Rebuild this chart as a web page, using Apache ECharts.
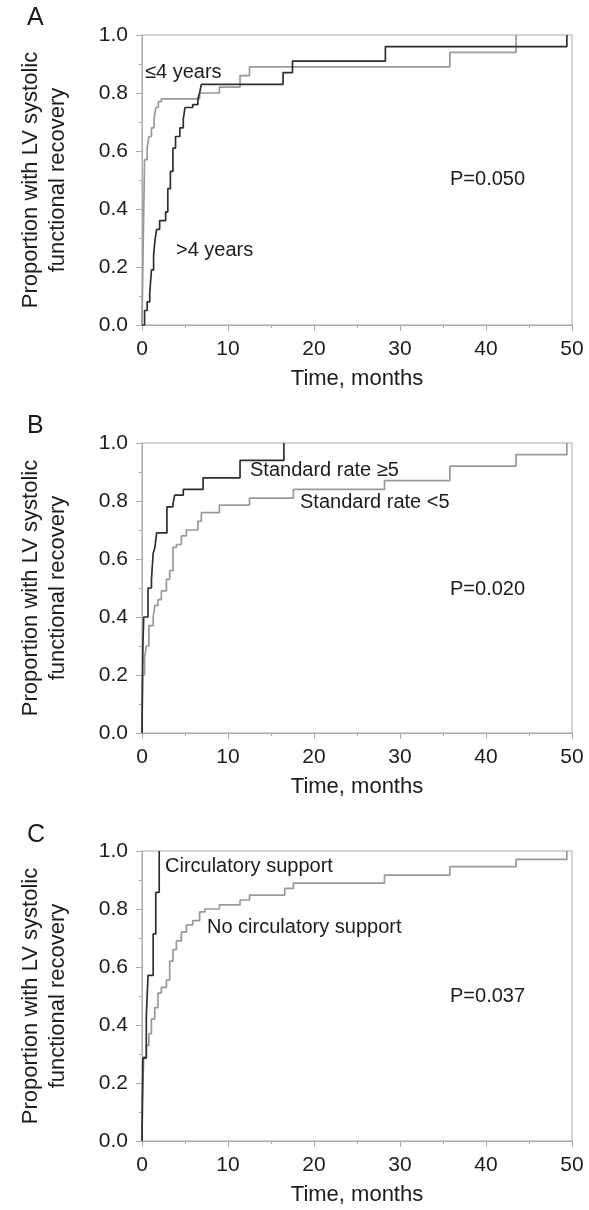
<!DOCTYPE html>
<html>
<head>
<meta charset="utf-8">
<script src="https://cdn.jsdelivr.net/npm/echarts@6/dist/echarts.min.js"></script>
<style>
  html, body { margin: 0; padding: 0; background: #fff; }
  #chart { width: 589px; height: 1210px; }
</style>
</head>
<body>
<div id="chart"></div>
<script>
  // x ticks / y ticks
  const timeTicks = [0, 10, 20, 30, 40, 50];
  const propTicks = [0, 0.2, 0.4, 0.6, 0.8, 1.0];

  // A: age of onset
  const timeA_le4 = [0, 0.15, 0.3, 0.6, 0.8, 1.1, 1.4, 1.6, 1.9, 2.25, 6.7, 9.0, 11.4, 12.5, 35.8, 43.5];
  const propA_le4 = [0, 0.3, 0.57, 0.61, 0.65, 0.68, 0.71, 0.75, 0.77, 0.78, 0.80, 0.82, 0.86, 0.89, 0.94, 1.0];
  const timeA_gt4 = [0, 0.3, 0.6, 0.9, 1.1, 1.35, 1.5, 1.7, 2.05, 2.75, 3.0, 3.3, 3.6, 3.9, 4.4, 4.8, 5.0, 5.9, 6.5, 6.7, 6.9, 16.4, 17.5, 28.3, 49.4];
  const propA_gt4 = [0, 0.05, 0.08, 0.11, 0.19, 0.24, 0.29, 0.33, 0.36, 0.39, 0.47, 0.53, 0.61, 0.65, 0.68, 0.71, 0.75, 0.76, 0.78, 0.80, 0.83, 0.87, 0.91, 0.96, 1.0];

  // B: standard rate
  const timeB_ge5 = [0, 0.1, 0.2, 0.7, 1.1, 1.3, 1.5, 1.7, 2.9, 3.6, 3.8, 4.8, 7.1, 11.4, 16.5];
  const propB_ge5 = [0, 0.3, 0.4, 0.5, 0.53, 0.62, 0.64, 0.69, 0.78, 0.79, 0.82, 0.84, 0.88, 0.94, 1.0];
  const timeB_lt5 = [0, 0.05, 0.3, 0.5, 0.8, 1.3, 1.5, 1.86, 2.25, 2.84, 3.22, 3.6, 4.0, 4.58, 5.16, 6.5, 6.9, 9.0, 12.5, 17.6, 28.2, 35.8, 43.5, 49.4];
  const propB_lt5 = [0, 0.2, 0.26, 0.3, 0.37, 0.4, 0.44, 0.46, 0.49, 0.53, 0.56, 0.64, 0.65, 0.68, 0.70, 0.73, 0.76, 0.786, 0.81, 0.84, 0.87, 0.92, 0.96, 1.0];

  // C: circulatory support
  const timeC_sup = [0, 0.1, 0.5, 0.7, 1.3, 1.6, 2.0];
  const propC_sup = [0, 0.286, 0.429, 0.571, 0.714, 0.857, 1.0];
  const timeC_no = [0, 0.05, 0.2, 0.5, 0.8, 1.09, 1.48, 1.86, 2.25, 2.84, 3.22, 3.6, 4.0, 4.58, 5.16, 5.9, 6.7, 7.3, 9.0, 11.4, 12.5, 16.6, 17.6, 28.2, 35.8, 43.5, 49.4];
  const propC_no = [0, 0.14, 0.29, 0.33, 0.37, 0.42, 0.46, 0.51, 0.53, 0.555, 0.62, 0.66, 0.69, 0.72, 0.745, 0.76, 0.79, 0.80, 0.814, 0.831, 0.848, 0.871, 0.889, 0.917, 0.946, 0.971, 1.0];

  const font = '"Liberation Sans", Arial, Helvetica, sans-serif';
  const textColor = '#1c1c1c';
  const axisColor = '#aaa';
  const darkLine = '#2e2e2e';
  const greyLine = '#999';
  const gridTops = [35, 443, 851];

  function km(t, p) {
    return t.map(function (x, i) { return [x, p[i]]; });
  }

  function xAxisFor(i) {
    return {
      type: 'value', gridIndex: i,
      min: timeTicks[0], max: timeTicks[timeTicks.length - 1], interval: 10,
      name: 'Time, months', nameLocation: 'middle', nameGap: 43,
      nameTextStyle: { fontFamily: font, fontSize: 22, color: textColor },
      axisLine: { lineStyle: { color: axisColor, width: 1 } },
      axisTick: { show: true, length: 6, lineStyle: { color: axisColor } },
      minorTick: { show: true, splitNumber: 2, length: 3, lineStyle: { color: axisColor } },
      splitLine: { show: false },
      axisLabel: { fontFamily: font, fontSize: 21, color: textColor, margin: 14 }
    };
  }

  function yAxisFor(i) {
    return {
      type: 'value', gridIndex: i,
      min: propTicks[0], max: propTicks[propTicks.length - 1], interval: 0.2,
      name: 'Proportion with LV systolic\nfunctional recovery',
      nameLocation: 'middle', nameRotate: 90, nameGap: 71,
      nameTextStyle: { fontFamily: font, fontSize: 22, color: textColor, lineHeight: 27 },
      axisLine: { show: true, lineStyle: { color: axisColor, width: 1 } },
      axisTick: { show: true, length: 6, lineStyle: { color: axisColor } },
      minorTick: { show: true, splitNumber: 2, length: 3, lineStyle: { color: axisColor } },
      splitLine: { show: false },
      axisLabel: {
        fontFamily: font, fontSize: 21, color: textColor, margin: 14,
        formatter: function (v) { return v.toFixed(1); }
      }
    };
  }

  function curve(i, data, color) {
    return {
      type: 'line', xAxisIndex: i, yAxisIndex: i,
      step: 'end', symbol: 'none', silent: true,
      lineStyle: { color: color, width: 1.7 },
      data: data
    };
  }

  function note(text, x, y, size) {
    return {
      type: 'text', left: x, top: y,
      style: { text: text, font: (size || 20) + 'px ' + font, fill: textColor }
    };
  }

  const chart = echarts.init(document.getElementById('chart'), null, { renderer: 'canvas' });

  chart.setOption({
    animation: false,
    backgroundColor: '#fff',
    grid: gridTops.map(function (t) {
      return { left: 142, right: 17, top: t, height: 290, show: true, borderColor: axisColor, borderWidth: 1 };
    }),
    xAxis: [0, 1, 2].map(xAxisFor),
    yAxis: [0, 1, 2].map(yAxisFor),
    series: [
      curve(0, km(timeA_le4, propA_le4), greyLine),
      curve(0, km(timeA_gt4, propA_gt4), darkLine),
      curve(1, km(timeB_lt5, propB_lt5), greyLine),
      curve(1, km(timeB_ge5, propB_ge5), darkLine),
      curve(2, km(timeC_no, propC_no), greyLine),
      curve(2, km(timeC_sup, propC_sup), darkLine)
    ],
    graphic: [
      note('A', 27, 6, 25),
      note('B', 27, 414, 25),
      note('C', 27, 823, 25),
      note('≤4 years', 145, 62),
      note('>4 years', 176, 240),
      note('P=0.050', 450, 169),
      note('Standard rate ≥5', 250, 460),
      note('Standard rate <5', 300, 492),
      note('P=0.020', 450, 579),
      note('Circulatory support', 165, 856),
      note('No circulatory support', 207, 917),
      note('P=0.037', 450, 986)
    ]
  });
</script>
</body>
</html>
